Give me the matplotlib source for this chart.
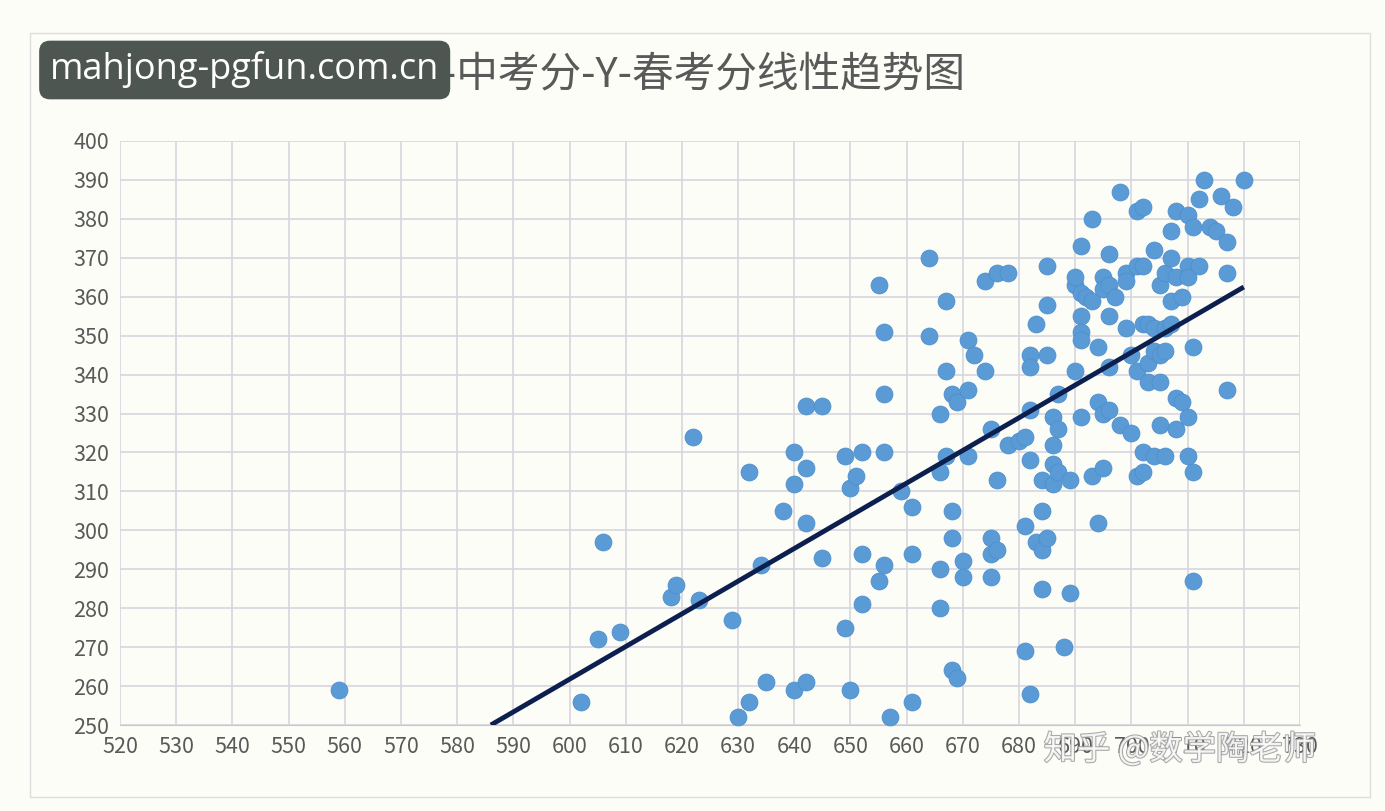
import matplotlib
matplotlib.use("Agg")
import matplotlib.pyplot as plt
import matplotlib.patheffects as pe
import numpy as np

plt.rcParams['font.family'] = ['Noto Sans CJK SC', 'DejaVu Sans']

points = [(559,259),(602,256),(605,272),(606,297),(609,274),(618,283),(619,286),(622,324),(623,282),(629,277),(630,252),(632,256),(632,315),(634,291),(635,261),(638,305),(640,320),(640,312),(640,259),(642,261),(642,316),(642,302),(642,332),(645,332),(645,293),(649,275),(649,319),(650,311),(650,259),(651,314),(652,320),(652,294),(652,281),(655,363),(655,287),(656,351),(656,335),(656,320),(656,291),(657,252),(659,310),(661,306),(661,294),(661,256),(664,370),(664,350),(666,330),(666,315),(666,290),(666,280),(667,359),(667,341),(667,319),(668,335),(668,305),(668,298),(668,264),(669,333),(669,262),(670,292),(670,288),(671,349),(671,336),(671,319),(672,345),(674,364),(674,341),(675,326),(675,298),(675,294),(675,288),(676,366),(676,313),(676,295),(678,366),(678,322),(680,323),(681,324),(681,301),(681,269),(682,345),(682,342),(682,331),(682,318),(682,258),(683,353),(683,297),(684,313),(684,305),(684,295),(684,285),(685,368),(685,358),(685,345),(685,298),(686,329),(686,322),(686,317),(686,312),(687,335),(687,326),(687,315),(688,270),(689,313),(689,284),(690,363),(690,341),(690,365),(691,373),(691,361),(691,355),(691,351),(691,349),(691,329),(692,360),(693,380),(693,359),(693,314),(694,347),(694,333),(694,302),(695,365),(695,362),(695,330),(695,316),(696,371),(696,363),(696,355),(696,342),(696,331),(697,360),(698,387),(698,327),(699,366),(699,352),(699,364),(700,345),(700,325),(701,382),(701,368),(701,341),(701,314),(702,383),(702,368),(702,353),(702,320),(702,315),(703,353),(703,343),(703,338),(704,372),(704,352),(704,346),(704,319),(705,363),(705,345),(705,338),(705,327),(706,366),(706,352),(706,346),(706,319),(707,377),(707,370),(707,359),(707,353),(708,382),(708,365),(708,334),(708,326),(709,360),(709,333),(710,381),(710,368),(710,365),(710,319),(710,329),(711,378),(711,347),(711,315),(711,287),(712,385),(712,368),(713,390),(714,378),(715,377),(716,386),(717,374),(717,366),(717,336),(718,383),(720,390)]
xs = [p[0] for p in points]
ys = [p[1] for p in points]
trend_x = [586, 720]
trend_y = [250, 362.5]
xticks = list(range(520, 731, 10))
yticks = list(range(250, 401, 10))

fig = plt.figure(figsize=(13.85, 8.11), dpi=100, facecolor='#fdfdf8')
ax = fig.add_axes([120/1385, 1-725/811, 1180/1385, 584/811])
ax.set_facecolor('#fdfdf8')
ax.set_xlim(520, 730); ax.set_ylim(250, 400)
ax.set_xticks(xticks); ax.set_yticks(yticks)
ax.grid(True, color='#d6d6de', linewidth=1.2)
ax.set_axisbelow(True)
for s in ['top', 'right', 'left']:
    ax.spines[s].set_visible(False)
ax.spines['bottom'].set_color('#c8c8d0')
ax.tick_params(length=0, labelsize=15.5, colors='#595959', pad=8)
ax.scatter(xs, ys, s=150, color='#5b9bd5', edgecolors='#4a8ccc', linewidths=0.5, zorder=3, clip_on=False)
ax.plot(trend_x, trend_y, color='#0d1f4f', linewidth=3.5, zorder=4, solid_capstyle='butt')

fig.add_artist(plt.Rectangle((30/1385, 1-797/811), 1340/1385, 764/811, fill=False, edgecolor='#dddddd', lw=1, transform=fig.transFigure))
fig.text(692/1385, 1-75/811, 'X-中考分-Y-春考分线性趋势图', ha='center', va='center', fontsize=30, color='#595959')
fig.text(50/1385, 1-70/811, 'mahjong-pgfun.com.cn', ha='left', va='center', fontsize=26, color='white',
         family=['Open Sans', 'DejaVu Sans'], zorder=10,
         bbox=dict(boxstyle='round,pad=0.3', facecolor='#4d5650', edgecolor='none'))
fig.text(1180/1385, 1-750/811, '知乎 @数学陶老师', ha='center', va='center', fontsize=24, color='#ffffff', alpha=0.85,
         path_effects=[pe.withStroke(linewidth=1.5, foreground='#999999')])
fig.savefig('out.png', dpi=100, facecolor=fig.get_facecolor())
